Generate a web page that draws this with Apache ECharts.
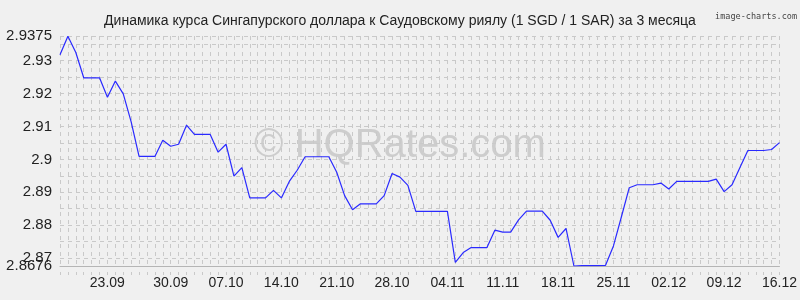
<!DOCTYPE html>
<html><head><meta charset="utf-8">
<script src="https://cdn.jsdelivr.net/npm/echarts@6/dist/echarts.min.js"></script>
<style>html,body{margin:0;padding:0;background:#f0f0f0}#c{width:800px;height:300px}</style>
</head><body><div id="c"></div>
<script>
const dates = [
 '16.09','17.09','18.09','19.09','20.09','21.09','22.09','23.09','24.09','25.09','26.09','27.09','28.09','29.09','30.09',
 '01.10','02.10','03.10','04.10','05.10','06.10','07.10','08.10','09.10','10.10','11.10','12.10','13.10','14.10','15.10',
 '16.10','17.10','18.10','19.10','20.10','21.10','22.10','23.10','24.10','25.10','26.10','27.10','28.10','29.10','30.10','31.10',
 '01.11','02.11','03.11','04.11','05.11','06.11','07.11','08.11','09.11','10.11','11.11','12.11','13.11','14.11','15.11',
 '16.11','17.11','18.11','19.11','20.11','21.11','22.11','23.11','24.11','25.11','26.11','27.11','28.11','29.11','30.11',
 '01.12','02.12','03.12','04.12','05.12','06.12','07.12','08.12','09.12','10.12','11.12','12.12','13.12','14.12','15.12','16.12'
];
const rates = [
 2.9318,2.9374,2.9325,2.9248,2.9248,2.9248,2.9189,2.9238,2.9199,2.9114,
 2.9009,2.9009,2.9009,2.9058,2.9040,2.9046,2.9104,2.9076,2.9076,2.9076,
 2.9022,2.9046,2.8949,2.8975,2.8883,2.8883,2.8883,2.8906,2.8883,2.8933,
 2.8967,2.9008,2.9008,2.9008,2.9008,2.8961,2.8890,2.8847,2.8865,2.8865,
 2.8865,2.8890,2.8957,2.8946,2.8921,2.8842,2.8842,2.8842,2.8842,2.8842,
 2.8687,2.8717,2.8732,2.8732,2.8732,2.8785,2.8779,2.8779,2.8816,2.8843,
 2.8843,2.8843,2.8815,2.8763,2.8790,2.8676,2.8677,2.8677,2.8677,2.8678,
 2.8737,2.8825,2.8914,2.8923,2.8923,2.8923,2.8928,2.8910,2.8933,2.8933,
 2.8933,2.8933,2.8933,2.8940,2.8902,2.8923,2.8975,2.9027,2.9027,2.9027,
 2.9030,2.9051
];
const xLabels = ['23.09','30.09','07.10','14.10','21.10','28.10','04.11','11.11','18.11','25.11','02.12','09.12','16.12'];
const yLabels = [2.87, 2.88, 2.89, 2.9, 2.91, 2.92, 2.93, 2.9375];
const yMinLabel = [2.8676];
const yGrid = [2.87,2.875,2.88,2.885,2.89,2.895,2.9,2.905,2.91,2.915,2.92,2.925,2.93,2.935,2.9375];
const yMin = 2.8676, yMax = 2.9375;
const title = 'Динамика курса Сингапурского доллара к Саудовскому риялу (1 SGD / 1 SAR) за 3 месяца';

const chart = echarts.init(document.getElementById('c'), null, {renderer: 'canvas'});
const gridColor = '#c9c9c9';
const font = 'Liberation Sans, Arial, sans-serif';
const yLabelStyle = {
  color: '#222', fontSize: 15, margin: 8, showMinLabel: true, showMaxLabel: true, hideOverlap: false,
  formatter: v => String(+(+v).toFixed(4)), fontFamily: font
};
chart.setOption({
  backgroundColor: '#f0f0f0',
  animation: false,
  textStyle: {fontFamily: font},
  title: {
    text: title, left: 'center', top: 9,
    textStyle: {fontSize: 14, fontWeight: 'normal', color: '#222', fontFamily: font}
  },
  graphic: [
    {type: 'text', right: 3, top: 12, z: 10,
     style: {text: 'image-charts.com', font: '8.5px "DejaVu Sans Mono", monospace', fill: '#444'}},
    {type: 'text', left: 'center', top: 126, z: -10, silent: true,
     style: {text: '© HQRates.com', font: '40px "Liberation Sans", Arial, sans-serif', fill: '#cdcdcd'}}
  ],
  grid: {left: 60, right: 20, top: 36, bottom: 34},
  xAxis: {
    type: 'category', boundaryGap: false,
    data: dates.map(d => d === '23.09' ? {value: d, textStyle: {padding: [0, 16, 0, 0]}} : d),
    axisLine: {show: true, lineStyle: {color: '#b5b5b5', width: 1}},
    axisTick: {show: true, interval: 0, length: 9, lineStyle: {color: gridColor, type: [3, 6], dashOffset: 3}},
    axisLabel: {
      interval: (i, v) => xLabels.indexOf(v) >= 0,
      color: '#222', fontSize: 14, margin: 10, fontFamily: font
    },
    splitLine: {show: true, interval: 0, lineStyle: {color: gridColor, type: [4, 4], width: 1}}
  },
  yAxis: [{
    type: 'value', min: yMin, max: yMax, scale: true, position: 'left',
    axisLine: {show: false},
    axisTick: {show: false, customValues: yGrid},
    axisLabel: Object.assign({customValues: yLabels}, yLabelStyle),
    splitLine: {show: true, lineStyle: {color: gridColor, type: [4, 4], width: 1}}
  }, {
    type: 'value', min: yMin, max: yMax, scale: true, position: 'left', offset: 0,
    axisLine: {show: false},
    axisTick: {show: false, customValues: yMinLabel},
    axisLabel: Object.assign({customValues: yMinLabel}, yLabelStyle),
    splitLine: {show: false}
  }],
  series: [{
    type: 'line', data: rates, showSymbol: false, symbol: 'none', yAxisIndex: 0,
    lineStyle: {color: '#2a2aff', width: 1.2}, z: 5
  }]
});
</script></body></html>
